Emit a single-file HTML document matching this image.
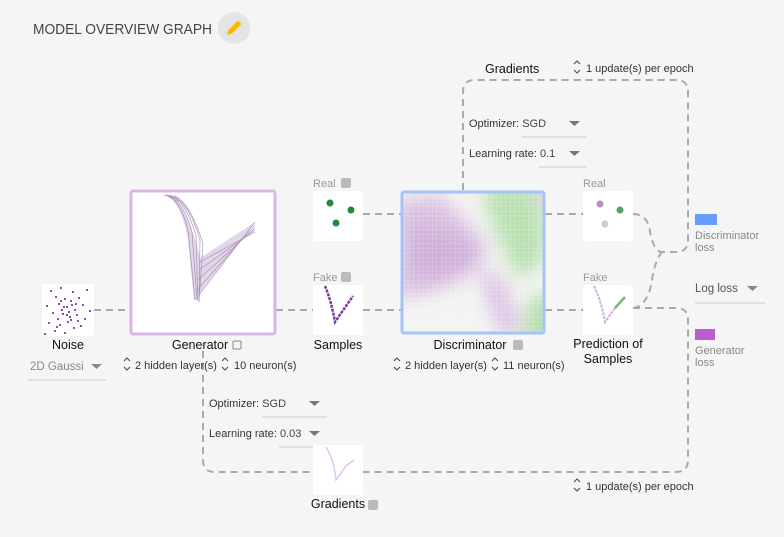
<!DOCTYPE html>
<html><head><meta charset="utf-8">
<style>
html,body{margin:0;padding:0;background:#f5f5f5;}
svg{display:block;font-family:"Liberation Sans",sans-serif;}
.lbl{font-size:12.5px;fill:#111;}
.sm{font-size:11px;fill:#333;}
.gr{font-size:11px;fill:#999;}
.dash{fill:none;stroke:#aaa;stroke-width:2;stroke-dasharray:7,5;}
.spin{fill:none;stroke:#444;stroke-width:1;}
</style></head>
<body>
<svg width="784" height="537" viewBox="0 0 784 537">
<defs>
<filter id="blur" x="-20%" y="-20%" width="140%" height="140%"><feGaussianBlur stdDeviation="9"/></filter>
<pattern id="grid" width="4.6" height="4.6" patternUnits="userSpaceOnUse"><path d="M4.6 0V4.6H0" fill="none" stroke="#fff" stroke-opacity="0.45" stroke-width="0.7"/></pattern>
<clipPath id="dclip"><rect x="403" y="193" width="140" height="139"/></clipPath>
</defs>
<rect width="784" height="537" fill="#f5f5f5"/>
<text x="33" y="34" font-size="15" fill="#444" textLength="179" lengthAdjust="spacingAndGlyphs">MODEL OVERVIEW GRAPH</text>
<g>
<circle cx="234" cy="28" r="16" fill="#e4e4e4"/>
<path d="M227 35 L228.5 30 L238 20.5 L241.5 24 L232 33.5 Z" fill="#f6b800"/>
</g>

<g>
<path class="dash" d="M94 310H130"/>
<path class="dash" d="M276 310H313"/>
<path class="dash" d="M363 214H401M363 310H401"/>
<path class="dash" d="M545 214H583M545 310H583"/>
<path class="dash" d="M463 190V92Q463 80 475 80H676Q688 80 688 92V240Q688 252 676 252H662"/>
<path class="dash" d="M633 214Q648 214 650 232Q654 252 662 252"/>
<path class="dash" d="M633 308Q648 306 652 280Q655 260 662 252"/>
<path class="dash" d="M633 308H676Q688 308 688 320V460Q688 472 676 472H215Q203 472 203 460V345"/>
</g>

<text x="485" y="73" class="lbl">Gradients</text>
<path class="spin" d="M574 64l3-3 3 3M574 70l3 3 3-3"/>
<text x="586" y="72" class="sm">1 update(s) per epoch</text>
<text x="469" y="127" class="sm">Optimizer: <tspan fill="#444">SGD</tspan></text>
<path d="M569 121h11l-5.5 5z" fill="#777"/>
<path d="M522 137H587" stroke="#ccc"/>
<text x="469" y="157" class="sm">Learning rate: <tspan fill="#444">0.1</tspan></text>
<path d="M569 151h11l-5.5 5z" fill="#777"/>
<path d="M539 167H587" stroke="#ccc"/>

<g>
<rect x="42" y="284" width="52" height="52" rx="2" fill="#fff"/>
<g fill="#8e4fb0">
<rect x="50" y="290" width="2" height="2"/><rect x="60" y="287" width="2" height="2"/><rect x="72" y="291" width="2" height="2"/><rect x="86" y="289" width="2" height="2"/>
<rect x="55" y="296" width="2" height="2"/><rect x="64" y="298" width="2" height="2"/><rect x="70" y="300" width="2" height="2"/><rect x="78" y="297" width="2" height="2"/>
<rect x="46" y="305" width="2" height="2"/><rect x="58" y="303" width="2" height="2"/><rect x="66" y="306" width="2" height="2"/><rect x="74" y="309" width="2" height="2"/><rect x="82" y="304" width="2" height="2"/><rect x="89" y="310" width="2" height="2"/>
<rect x="52" y="312" width="2" height="2"/><rect x="62" y="313" width="2" height="2"/><rect x="69" y="316" width="2" height="2"/><rect x="76" y="314" width="2" height="2"/><rect x="84" y="318" width="2" height="2"/>
<rect x="48" y="322" width="2" height="2"/><rect x="59" y="324" width="2" height="2"/><rect x="67" y="321" width="2" height="2"/><rect x="73" y="327" width="2" height="2"/><rect x="80" y="325" width="2" height="2"/>
<rect x="54" y="330" width="2" height="2"/><rect x="64" y="332" width="2" height="2"/><rect x="44" y="333" width="2" height="2"/><rect x="71" y="304" width="2" height="2"/><rect x="61" y="309" width="2" height="2"/><rect x="68" y="311" width="2" height="2"/><rect x="57" y="318" width="2" height="2"/><rect x="77" y="320" width="2" height="2"/>
<rect x="63" y="306" width="2" height="2"/><rect x="66" y="314" width="2" height="2"/><rect x="70" y="319" width="2" height="2"/><rect x="60" y="300" width="2" height="2"/><rect x="75" y="303" width="2" height="2"/><rect x="56" y="326" width="2" height="2"/>
</g></g>
<text x="68" y="349" class="lbl" text-anchor="middle">Noise</text>
<text x="30" y="370" font-size="11.5" fill="#888">2D Gaussi</text>
<path d="M91 364h11l-5.5 5z" fill="#888"/>
<path d="M28 380H106" stroke="#ccc"/>

<g>
<rect x="131" y="191" width="144" height="143" rx="2" fill="#fff" stroke="#dbb4ea" stroke-width="3"/>
<path d="M164 195Q180 198 188 240L194 300L255 222L200 258Q195 230 175 196Z" fill="#c9b6d6" opacity="0.55"/>
<g fill="none" stroke="#9a7fa8" stroke-width="0.7" opacity="0.8">
<path d="M164 195Q180 198 188 230L195 300"/><path d="M166 195Q183 199 192 232L197 300"/>
<path d="M169 195Q186 200 196 236L198 301"/><path d="M172 196Q189 202 200 240L199 302"/>
<path d="M175 196Q191 204 203 244L199 302"/>
<path d="M195 300L255 222"/><path d="M197 290L255 225"/><path d="M198 280L255 228"/><path d="M199 270L255 230"/><path d="M200 262L255 232"/>
</g>
</g>
<text x="200" y="349" class="lbl" text-anchor="middle">Generator</text>
<rect x="233" y="341" width="8" height="8" fill="none" stroke="#888" rx="1"/>
<path class="spin" d="M124 361l3-3 3 3M124 367l3 3 3-3"/>
<text x="135" y="369" class="sm">2 hidden layer(s)</text>
<path class="spin" d="M222 361l3-3 3 3M222 367l3 3 3-3"/>
<text x="234" y="369" class="sm">10 neuron(s)</text>
<text x="209" y="407" class="sm">Optimizer: <tspan fill="#444">SGD</tspan></text>
<path d="M309 401h11l-5.5 5z" fill="#777"/>
<path d="M262 417H327" stroke="#ccc"/>
<text x="209" y="437" class="sm">Learning rate: <tspan fill="#444">0.03</tspan></text>
<path d="M309 431h11l-5.5 5z" fill="#777"/>
<path d="M279 447H327" stroke="#ccc"/>

<text x="313" y="187" class="gr" font-size="12">Real</text>
<rect x="341" y="178" width="10" height="10" rx="2" fill="#bbb"/>
<g>
<rect x="313" y="191" width="50" height="50" rx="2" fill="#fff"/>
<circle cx="330" cy="203" r="3.5" fill="#1e8a3a"/><circle cx="351" cy="210" r="3.5" fill="#1e8a3a"/><circle cx="336" cy="223" r="3.5" fill="#1e8a3a"/>
</g>
<text x="313" y="281" class="gr" font-size="12">Fake</text>
<rect x="341" y="272" width="10" height="10" rx="2" fill="#bbb"/>
<g>
<rect x="313" y="285" width="50" height="50" rx="2" fill="#fff"/>
<path d="M325 286Q331 300 335 322L346 306L353 296" fill="none" stroke="#7b3aa0" stroke-width="2.5" stroke-dasharray="3,1"/>
</g>
<text x="338" y="349" class="lbl" text-anchor="middle">Samples</text>

<g>
<rect x="401" y="191" width="144" height="143" rx="2" fill="#f3f3f2"/>
<g clip-path="url(#dclip)">
<g filter="url(#blur)">
<path d="M396 200L440 195L470 225L490 250L470 275L440 290L396 300Z" fill="#d8bfe0"/>
<path d="M410 225L460 235L480 260L440 280L410 270Z" fill="#cfaed9"/>
<path d="M478 265L505 282L520 330L505 340L490 310Z" fill="#d9bfe2"/>
<path d="M480 185L530 185L545 215L545 260L520 280L505 255L490 220Z" fill="#b8e0b0"/>
<path d="M528 300L560 290L560 345L520 345Z" fill="#b4ddaa"/>
<path d="M530 185L555 185L555 215Z" fill="#d6b8df"/>
</g>
<rect x="401" y="191" width="144" height="143" fill="url(#grid)"/>
</g>
<rect x="402" y="192" width="142" height="141" rx="2" fill="none" stroke="#a3c4fa" stroke-width="3"/>
</g>
<text x="470" y="349" class="lbl" text-anchor="middle">Discriminator</text>
<rect x="513" y="340" width="10" height="10" rx="2" fill="#bbb"/>
<path class="spin" d="M394 361l3-3 3 3M394 367l3 3 3-3"/>
<text x="405" y="369" class="sm">2 hidden layer(s)</text>
<path class="spin" d="M492 361l3-3 3 3M492 367l3 3 3-3"/>
<text x="503" y="369" class="sm">11 neuron(s)</text>

<text x="583" y="187" class="gr" font-size="12">Real</text>
<g>
<rect x="583" y="191" width="50" height="50" rx="2" fill="#fff"/>
<circle cx="600" cy="204" r="3.5" fill="#b98ccb"/><circle cx="620" cy="210" r="3.5" fill="#52a760"/><circle cx="605" cy="224" r="3.5" fill="#d7c2e0"/>
</g>
<text x="583" y="281" class="gr" font-size="12">Fake</text>
<g>
<rect x="583" y="285" width="50" height="50" rx="2" fill="#fff"/>
<path d="M594 286Q601 300 605 322L615 308" fill="none" stroke="#cbb2d9" stroke-width="2" stroke-dasharray="3,1"/>
<path d="M615 308L625 297" stroke="#6dbd6d" stroke-width="2.5"/>
</g>
<text x="608" y="348" class="lbl" text-anchor="middle">Prediction of</text>
<text x="608" y="363" class="lbl" text-anchor="middle">Samples</text>

<rect x="695" y="214" width="22" height="11" fill="#679cff"/>
<text x="695" y="239" font-size="11" fill="#888">Discriminator</text>
<text x="695" y="251" font-size="11" fill="#888">loss</text>
<text x="695" y="292" font-size="11.5" fill="#555">Log loss</text>
<path d="M747 286h11l-5.5 5z" fill="#888"/>
<path d="M695 303H765" stroke="#ccc"/>
<rect x="695" y="329" width="20" height="11" fill="#bb5ed0"/>
<text x="695" y="354" font-size="11" fill="#888">Generator</text>
<text x="695" y="366" font-size="11" fill="#888">loss</text>

<g>
<rect x="313" y="445" width="50" height="50" rx="2" fill="#fff"/>
<path d="M326 447Q334 460 336 480L346 466L354 460" fill="none" stroke="#e4c4f0" stroke-width="1.5"/>
</g>
<text x="338" y="508" class="lbl" text-anchor="middle">Gradients</text>
<rect x="368" y="500" width="10" height="10" rx="2" fill="#bbb"/>
<path class="spin" d="M574 482l3-3 3 3M574 488l3 3 3-3"/>
<text x="586" y="490" class="sm">1 update(s) per epoch</text>
</svg>
</body></html>
